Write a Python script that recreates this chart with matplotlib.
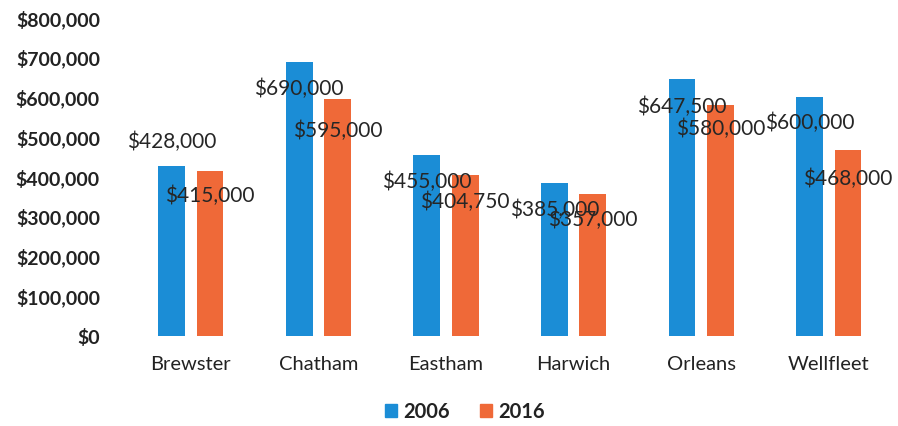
import matplotlib.pyplot as plt
import numpy as np
from matplotlib.ticker import FuncFormatter
from matplotlib.patches import Patch

plt.rcParams['font.family'] = ['Lato', 'DejaVu Sans']

towns = ['Brewster', 'Chatham', 'Eastham', 'Harwich', 'Orleans', 'Wellfleet']
price_2006 = [428000, 690000, 455000, 385000, 647500, 600000]
price_2016 = [415000, 595000, 404750, 357000, 580000, 468000]

# label offsets (pixels) from each bar top
off_2006 = [24, -27, -27, -27, -28, -25]
off_2016 = [-25, -31, -27, -26, -23, -29]

blue = '#1b8dd6'
orange = '#ef6938'

fig = plt.figure(figsize=(8.98, 4.26), dpi=100)
ax = fig.add_axes([0.1414, 0.211, 0.8526, 0.747])

x = np.arange(len(towns))
w = 0.21
b1 = ax.bar(x - 0.15, price_2006, w, color=blue)
b2 = ax.bar(x + 0.15, price_2016, w, color=orange)

def money(v, pos=None):
    return '${:,.0f}'.format(v)

for bars, vals, offs in [(b1, price_2006, off_2006), (b2, price_2016, off_2016)]:
    for bar, v, o in zip(bars, vals, offs):
        ax.annotate(money(v), (bar.get_x() + bar.get_width() / 2, v),
                    xytext=(0, o), textcoords='offset pixels',
                    ha='center', va='center', fontsize=15, color='#262626')

ax.set_xlim(-0.5, len(towns) - 0.5)
ax.set_ylim(0, 800000)
ax.set_yticks(np.arange(0, 800001, 100000))
ax.yaxis.set_major_formatter(FuncFormatter(money))
ax.set_xticks(x)
ax.set_xticklabels(towns)
ax.tick_params(axis='y', length=0, pad=19.5, labelsize=14, labelcolor='#222222')
ax.tick_params(axis='x', length=0, pad=14, labelsize=14.5, labelcolor='#222222')
for lbl in ax.get_yticklabels():
    lbl.set_fontweight('bold')
for s in ax.spines.values():
    s.set_visible(False)

handles = [Patch(color=blue, label='2006'), Patch(color=orange, label='2016')]
leg = fig.legend(handles=handles, loc='center', bbox_to_anchor=(0.518, 0.033),
                 ncol=2, frameon=False, fontsize=14.5, handlelength=0.6,
                 handleheight=0.6, handletextpad=0.3, columnspacing=1.5)
for t in leg.get_texts():
    t.set_fontweight('bold')
    t.set_color('#222222')

fig.savefig('out.png', dpi=100)
